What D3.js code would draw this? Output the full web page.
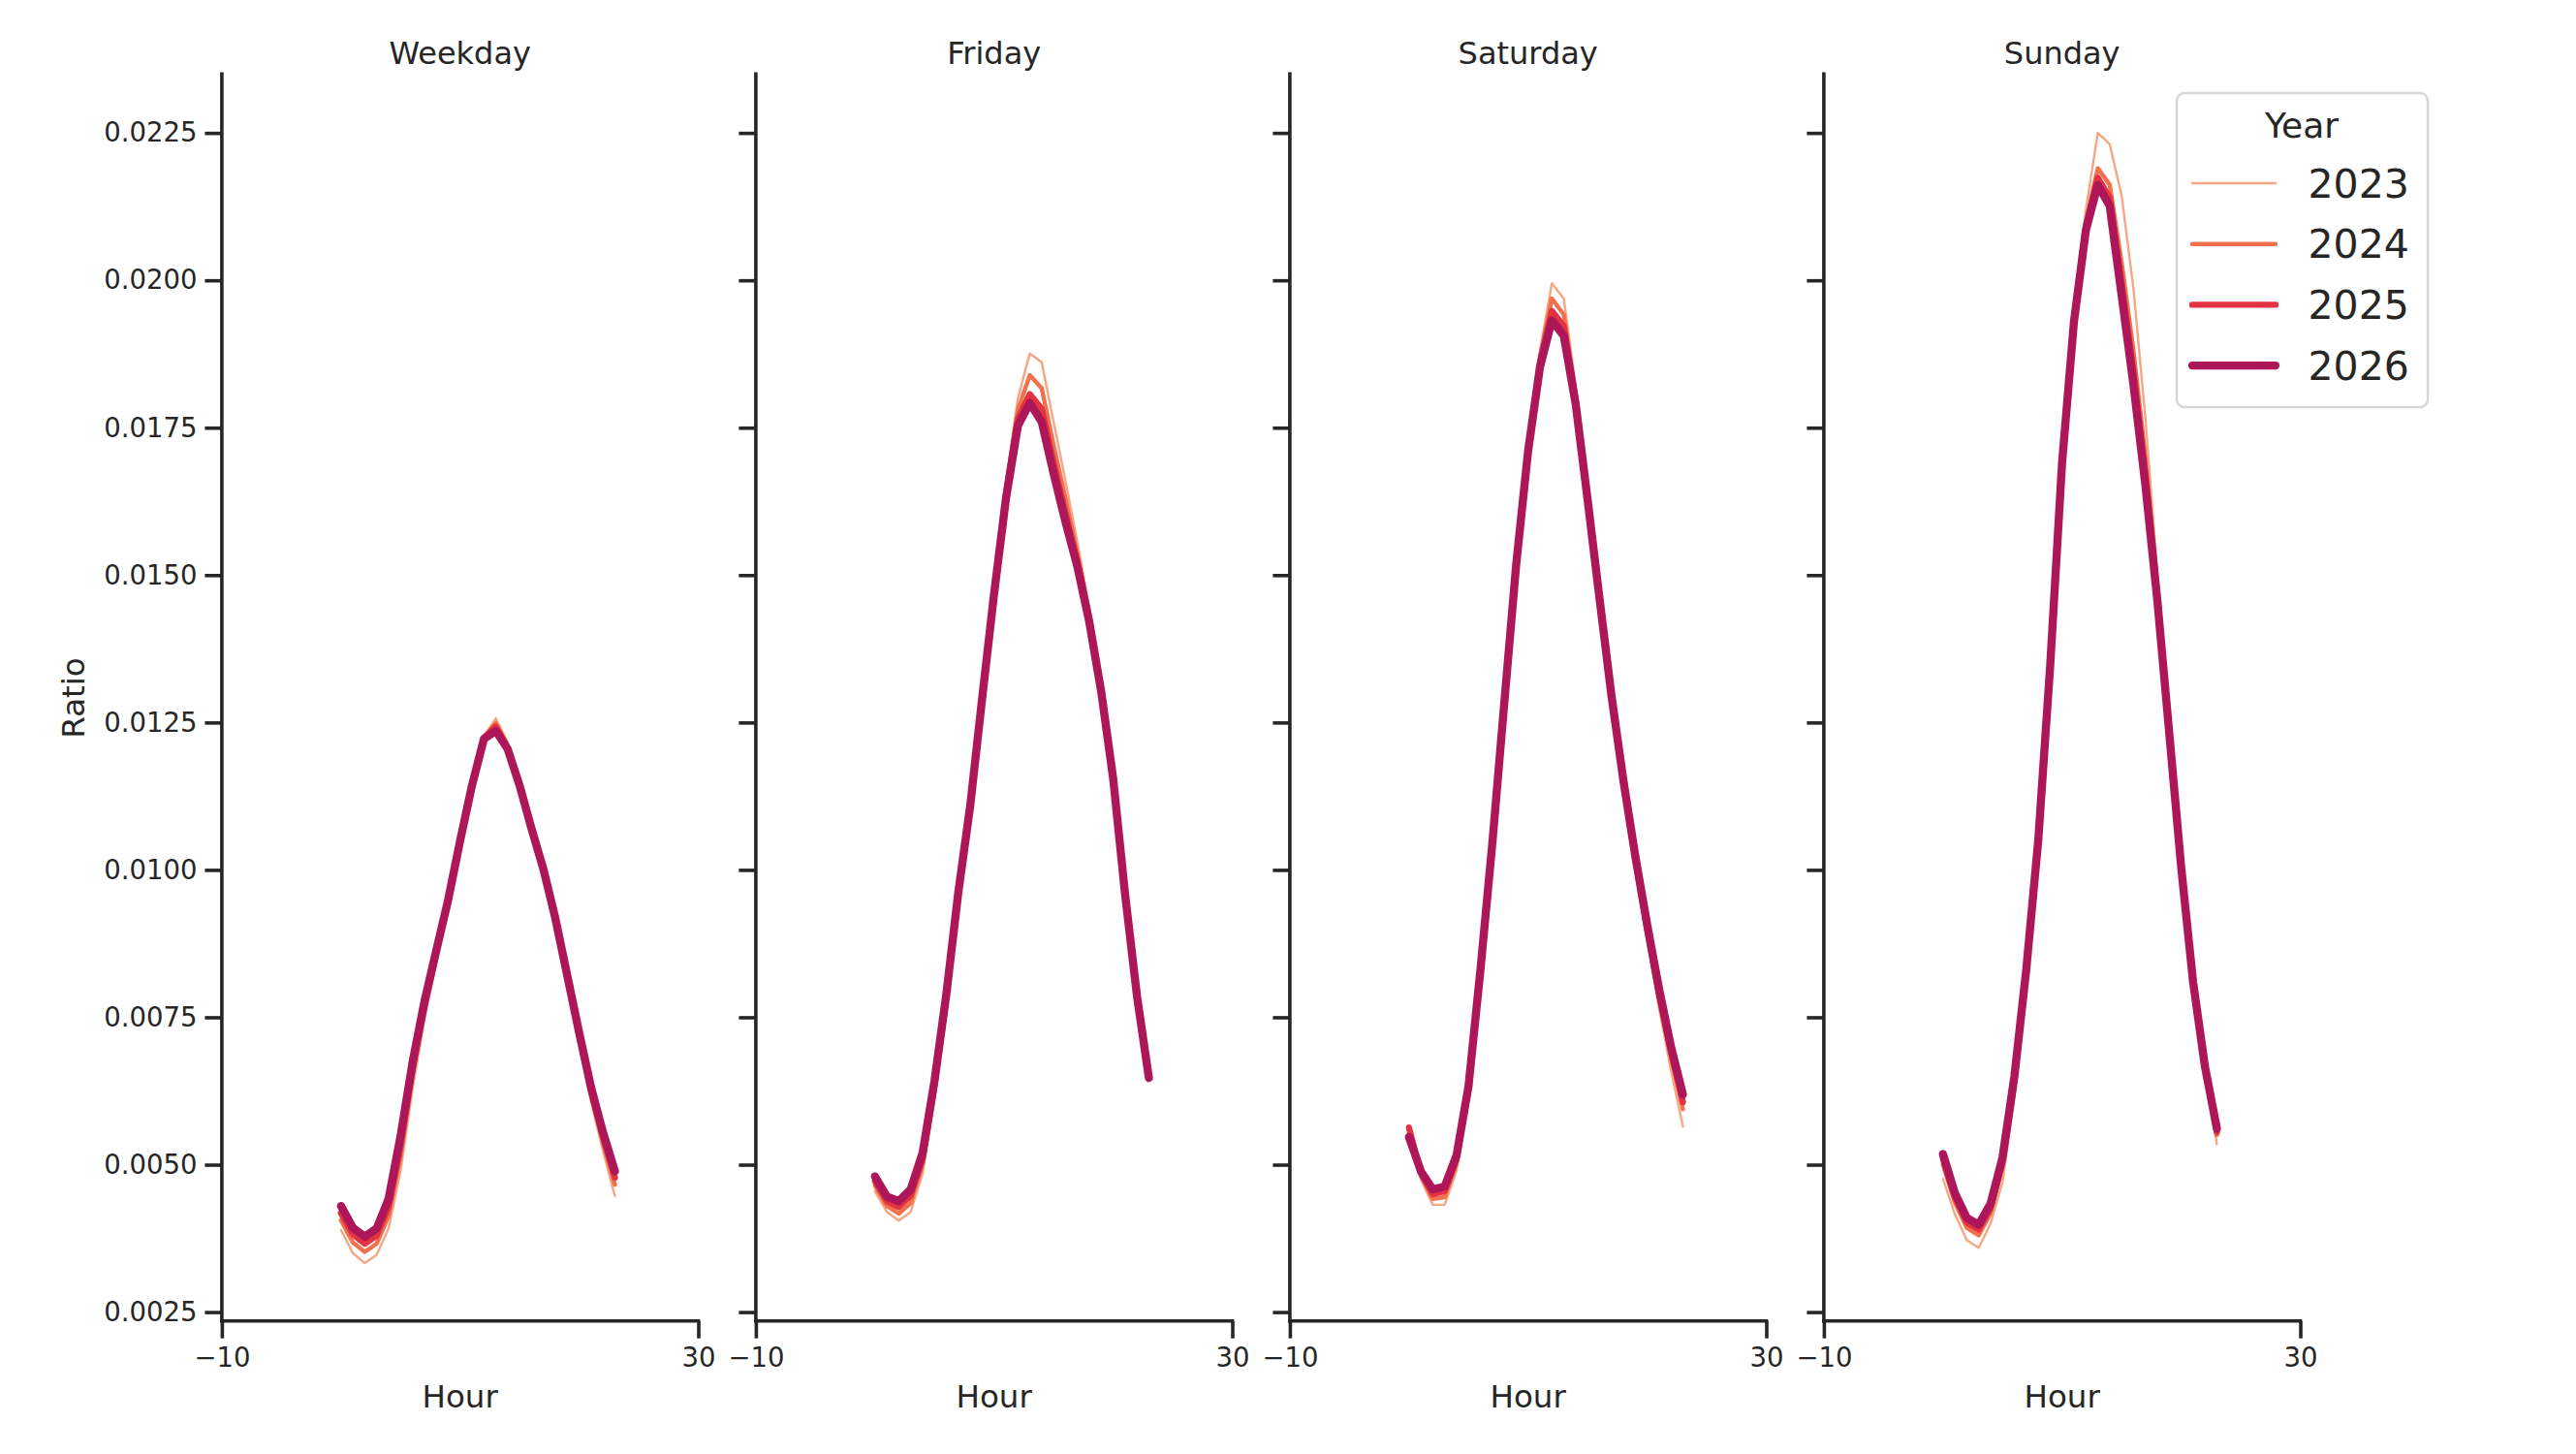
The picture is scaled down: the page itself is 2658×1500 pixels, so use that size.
<!DOCTYPE html>
<html>
<head>
<meta charset="utf-8">
<script src="https://cdn.jsdelivr.net/npm/d3@7"></script>
<style>
  body { margin: 0; background: #ffffff; }
  text { font-family: "DejaVu Sans", sans-serif; fill: #262626; }
</style>
</head>
<body>
<div class="chart"></div>
<script>
// Data
var hours = d3.range(0, 24);
var panels = ["Weekday", "Friday", "Saturday", "Sunday"];
var years = ["2023", "2024", "2025", "2026"];
var yTicks = [0.0025, 0.0050, 0.0075, 0.0100, 0.0125, 0.0150, 0.0175, 0.0200, 0.0225];
var xTicks = [-10, 30];

var weekday2023 = [0.00389, 0.00350, 0.00333, 0.00347, 0.00392, 0.00489, 0.00627, 0.00745, 0.00842, 0.00939, 0.01042, 0.01139, 0.01226, 0.01257, 0.01216, 0.01150, 0.01073, 0.01001, 0.00911, 0.00807, 0.00703, 0.00606, 0.00523, 0.00447];
var weekday2024 = [0.00406, 0.00368, 0.00352, 0.00366, 0.00413, 0.00513, 0.00648, 0.00759, 0.00852, 0.00946, 0.01046, 0.01141, 0.01225, 0.01249, 0.01210, 0.01146, 0.01072, 0.01001, 0.00914, 0.00814, 0.00714, 0.00619, 0.00537, 0.00466];
var weekday2025 = [0.00418, 0.00382, 0.00366, 0.00380, 0.00428, 0.00532, 0.00662, 0.00769, 0.00859, 0.00948, 0.01048, 0.01142, 0.01224, 0.01243, 0.01207, 0.01144, 0.01071, 0.01001, 0.00916, 0.00817, 0.00720, 0.00626, 0.00547, 0.00478];
var weekday2026 = [0.00430, 0.00393, 0.00378, 0.00392, 0.00442, 0.00548, 0.00672, 0.00776, 0.00863, 0.00949, 0.01049, 0.01143, 0.01222, 0.01236, 0.01205, 0.01143, 0.01070, 0.01001, 0.00918, 0.00821, 0.00724, 0.00631, 0.00555, 0.00489];

var friday2023 = [0.00455, 0.00420, 0.00405, 0.00420, 0.00485, 0.00610, 0.00765, 0.00945, 0.01100, 0.01290, 0.01478, 0.01660, 0.01800, 0.01876, 0.01861, 0.01760, 0.01660, 0.01555, 0.01445, 0.01310, 0.01158, 0.00960, 0.00786, 0.00646];
var friday2024 = [0.00465, 0.00430, 0.00417, 0.00435, 0.00500, 0.00625, 0.00777, 0.00952, 0.01104, 0.01290, 0.01472, 0.01645, 0.01780, 0.01839, 0.01817, 0.01720, 0.01630, 0.01535, 0.01432, 0.01306, 0.01157, 0.00959, 0.00786, 0.00646];
var friday2025 = [0.00472, 0.00438, 0.00428, 0.00448, 0.00510, 0.00635, 0.00785, 0.00958, 0.01107, 0.01291, 0.01470, 0.01637, 0.01765, 0.01807, 0.01782, 0.01690, 0.01605, 0.01522, 0.01425, 0.01303, 0.01156, 0.00959, 0.00786, 0.00647];
var friday2026 = [0.00480, 0.00446, 0.00438, 0.00458, 0.00520, 0.00642, 0.00790, 0.00962, 0.01109, 0.01291, 0.01468, 0.01630, 0.01753, 0.01792, 0.01760, 0.01672, 0.01590, 0.01514, 0.01420, 0.01302, 0.01155, 0.00959, 0.00786, 0.00647];

var saturday2023 = [0.00545, 0.00475, 0.00432, 0.00432, 0.00490, 0.00615, 0.00820, 0.01040, 0.01280, 0.01520, 0.01720, 0.01880, 0.01995, 0.01969, 0.01820, 0.01645, 0.01470, 0.01295, 0.01140, 0.01005, 0.00880, 0.00765, 0.00660, 0.00565];
var saturday2024 = [0.00555, 0.00482, 0.00442, 0.00445, 0.00502, 0.00625, 0.00825, 0.01043, 0.01281, 0.01519, 0.01715, 0.01870, 0.01969, 0.01942, 0.01805, 0.01636, 0.01465, 0.01296, 0.01146, 0.01014, 0.00893, 0.00782, 0.00682, 0.00594];
var saturday2025 = [0.00563, 0.00486, 0.00450, 0.00455, 0.00510, 0.00630, 0.00828, 0.01044, 0.01282, 0.01518, 0.01712, 0.01860, 0.01948, 0.01922, 0.01797, 0.01632, 0.01462, 0.01296, 0.01149, 0.01019, 0.00900, 0.00790, 0.00692, 0.00606];
var saturday2026 = [0.00547, 0.00489, 0.00458, 0.00463, 0.00516, 0.00633, 0.00830, 0.01045, 0.01282, 0.01517, 0.01710, 0.01853, 0.01932, 0.01906, 0.01790, 0.01628, 0.01460, 0.01296, 0.01152, 0.01024, 0.00907, 0.00798, 0.00700, 0.00619];

var sunday2023 = [0.00476, 0.00416, 0.00372, 0.00359, 0.00400, 0.00470, 0.00615, 0.00810, 0.01040, 0.01345, 0.01700, 0.01950, 0.02120, 0.02250, 0.02231, 0.02144, 0.01985, 0.01765, 0.01505, 0.01250, 0.01020, 0.00815, 0.00660, 0.00535];
var sunday2024 = [0.00500, 0.00436, 0.00393, 0.00380, 0.00418, 0.00495, 0.00635, 0.00822, 0.01046, 0.01345, 0.01695, 0.01940, 0.02100, 0.02190, 0.02162, 0.02030, 0.01880, 0.01700, 0.01480, 0.01240, 0.01012, 0.00812, 0.00664, 0.00550];
var sunday2025 = [0.00510, 0.00445, 0.00402, 0.00390, 0.00426, 0.00505, 0.00643, 0.00828, 0.01048, 0.01345, 0.01692, 0.01935, 0.02092, 0.02174, 0.02140, 0.01995, 0.01845, 0.01668, 0.01465, 0.01235, 0.01008, 0.00811, 0.00665, 0.00555];
var sunday2026 = [0.00518, 0.00452, 0.00410, 0.00398, 0.00434, 0.00512, 0.00650, 0.00832, 0.01050, 0.01345, 0.01690, 0.01930, 0.02085, 0.02162, 0.02126, 0.01975, 0.01822, 0.01652, 0.01457, 0.01232, 0.01005, 0.00810, 0.00666, 0.00561];

// series per panel, in hue order (2026 drawn last, on top)
var panelSeries = [
  [weekday2023, weekday2024, weekday2025, weekday2026],
  [friday2023, friday2024, friday2025, friday2026],
  [saturday2023, saturday2024, saturday2025, saturday2026],
  [sunday2023, sunday2024, sunday2025, sunday2026]
];

var yearColors = ["#f6a781", "#f2704d", "#e13342", "#ad1759"];
var yearWidths = [2.4, 4.4, 6.4, 8.4];

var svgWidth = 2658;
var svgHeight = 1500;

var margin = { top: 76.3, left: 228.9 };
var panelWidth = 491.6;
var panelStep = 551;
var panelHeight = 1362.7 - 76.3;

var ink = "#262626";

var svg = d3.select(".chart")
  .append("svg")
  .attr("width", svgWidth)
  .attr("height", svgHeight);

// shared scales
var xScale = d3.scaleLinear()
  .domain([-10, 30])
  .range([0, panelWidth]);

var yScale = d3.scaleLinear()
  .domain([0.00235, 0.0235])
  .range([panelHeight, 0]);

var line = d3.line()
  .x((d, i) => xScale(hours[i]))
  .y(d => yScale(d));

panels.forEach(function(name, p) {
  var g = svg.append("g")
    .attr("transform", `translate(${margin.left + p * panelStep}, ${margin.top})`);

  // left axis: labels only on the first panel
  var leftAxis = d3.axisLeft(yScale)
    .tickValues(yTicks)
    .tickSize(17.5)
    .tickPadding(8)
    .tickFormat(p === 0 ? d3.format(".4f") : "");

  var yAxis = g.append("g").call(leftAxis);
  yAxis.select(".domain")
    .attr("d", `M0,0V${panelHeight}`);

  var bottomAxis = d3.axisBottom(xScale)
    .tickValues(xTicks)
    .tickSize(18)
    .tickPadding(10)
    .tickFormat(d3.format("d"));

  var xAxis = g.append("g")
    .attr("transform", `translate(0, ${panelHeight})`)
    .call(bottomAxis);
  xAxis.select(".domain")
    .attr("d", `M0,0H${panelWidth}`);

  [yAxis, xAxis].forEach(function(ax) {
    ax.select(".domain").attr("stroke", ink).attr("stroke-width", 3.6).attr("stroke-linecap", "square");
    ax.selectAll(".tick line").attr("stroke", ink).attr("stroke-width", 3.6);
    ax.selectAll(".tick text")
      .attr("fill", ink)
      .style("font-family", "DejaVu Sans")
      .style("font-size", "27.5px");
  });

  // lines
  panelSeries[p].forEach(function(values, k) {
    g.append("path")
      .datum(values)
      .attr("fill", "none")
      .attr("stroke", yearColors[k])
      .attr("stroke-width", yearWidths[k])
      .attr("stroke-linejoin", "round")
      .attr("stroke-linecap", "round")
      .attr("d", line);
  });

  // panel title
  g.append("text")
    .attr("x", panelWidth / 2)
    .attr("y", 66 - margin.top)
    .attr("text-anchor", "middle")
    .style("font-size", "32px")
    .text(name);

  // x label
  g.append("text")
    .attr("x", panelWidth / 2)
    .attr("y", 1452 - margin.top)
    .attr("text-anchor", "middle")
    .style("font-size", "32.5px")
    .text("Hour");
});

// y label
svg.append("text")
  .attr("transform", "translate(87, 720) rotate(-90)")
  .attr("text-anchor", "middle")
  .style("font-size", "32.5px")
  .text("Ratio");

// legend
var legend = svg.append("g")
  .attr("transform", "translate(2246, 96)");

legend.append("rect")
  .attr("x", 0)
  .attr("y", 0)
  .attr("width", 259)
  .attr("height", 324)
  .attr("rx", 8)
  .attr("fill", "#ffffff")
  .attr("fill-opacity", 0.8)
  .attr("stroke", "#d6d6d6")
  .attr("stroke-width", 2.5);

legend.append("text")
  .attr("x", 129)
  .attr("y", 46)
  .attr("text-anchor", "middle")
  .style("font-size", "36px")
  .text("Year");

years.forEach(function(year, k) {
  var ly = 93 + k * 62.7;
  legend.append("line")
    .attr("x1", 16)
    .attr("x2", 102)
    .attr("y1", ly)
    .attr("y2", ly)
    .attr("stroke", yearColors[k])
    .attr("stroke-width", yearWidths[k])
    .attr("stroke-linecap", "round");

  legend.append("text")
    .attr("x", 135.5)
    .attr("y", ly + 14.5)
    .style("font-size", "41px")
    .text(year);
});
</script>
</body>
</html>
